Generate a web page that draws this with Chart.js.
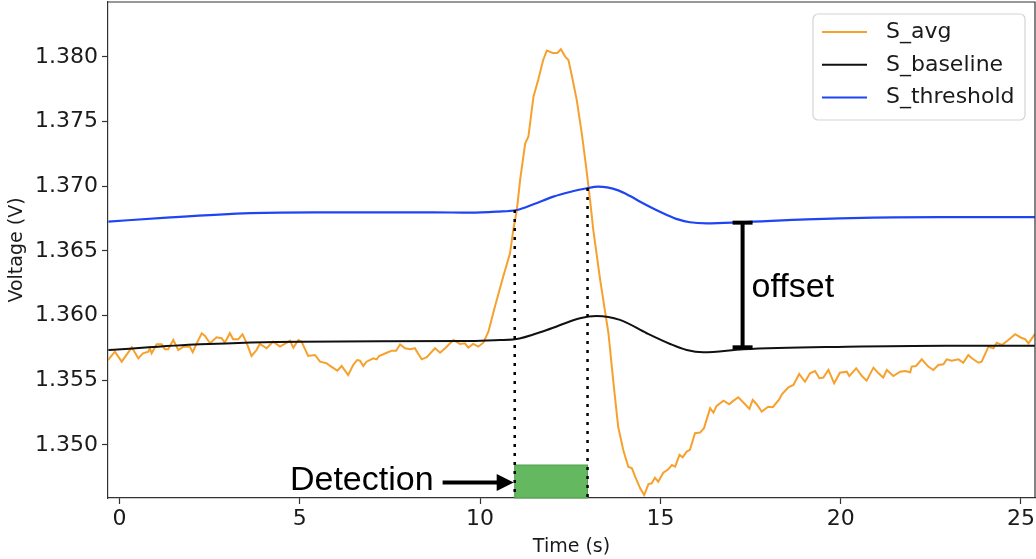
<!DOCTYPE html>
<html>
<head>
<meta charset="utf-8">
<script src="https://cdn.jsdelivr.net/npm/chart.js@4.4.0/dist/chart.umd.min.js"></script>
<style>
  html, body { margin: 0; padding: 0; background: #fff; }
</style>
</head>
<body>
<canvas id="myChart" width="1036" height="559"></canvas>
<script>
// S_avg trace
const avgTime = [
  -0.32,-0.13,0.06,0.34,0.52,0.65,0.80,0.84,0.89,1.03,
  1.17,1.26,1.35,1.49,1.63,1.77,1.95,2.03,2.14,2.28,
  2.37,2.51,2.69,2.83,2.92,3.06,3.15,3.29,3.41,3.53,
  3.66,3.80,3.89,4.08,4.26,4.45,4.64,4.73,4.82,4.96,
  5.05,5.23,5.42,5.56,5.74,5.84,6.04,6.16,6.34,6.48,
  6.59,6.67,6.76,6.85,7.04,7.13,7.20,7.41,7.55,7.67,
  7.78,7.92,8.06,8.19,8.38,8.52,8.75,8.89,9.03,9.26,
  9.44,9.58,9.67,9.81,9.95,10.09,10.23,10.41,10.64,10.83,
  10.92,11.02,11.11,11.25,11.34,11.48,11.61,11.75,11.85,12.03,
  12.15,12.24,12.36,12.45,12.54,12.68,12.82,12.94,13.05,13.14,
  13.33,13.56,13.70,13.83,13.97,14.11,14.21,14.30,14.44,14.55,
  14.67,14.76,14.85,14.94,15.08,15.22,15.32,15.41,15.53,15.62,
  15.73,15.82,15.96,16.10,16.21,16.38,16.47,16.56,16.75,16.91,
  17.02,17.16,17.35,17.47,17.56,17.67,17.81,17.99,18.12,18.30,
  18.37,18.55,18.69,18.85,19.01,19.15,19.29,19.41,19.52,19.66,
  19.82,19.98,20.17,20.24,20.43,20.59,20.72,20.91,21.05,21.18,
  21.28,21.46,21.65,21.79,21.93,21.97,22.09,22.25,22.43,22.57,
  22.71,22.85,22.94,23.08,23.27,23.40,23.54,23.64,23.82,23.91,
  24.10,24.24,24.33,24.47,24.65,24.84,24.98,25.12,25.21,25.39
];
const avgVolt = [
  1.35657,1.35721,1.35644,1.35755,1.35670,1.35709,1.35721,1.35748,1.35709,1.35778,
  1.35778,1.35740,1.35740,1.35812,1.35734,1.35760,1.35760,1.35717,1.35786,1.35864,
  1.35843,1.35786,1.35833,1.35825,1.35791,1.35864,1.35817,1.35817,1.35856,1.35786,
  1.35688,1.35734,1.35781,1.35748,1.35799,1.35760,1.35791,1.35807,1.35753,1.35812,
  1.35799,1.35688,1.35696,1.35644,1.35632,1.35611,1.35575,1.35611,1.35541,1.35618,
  1.35657,1.35652,1.35611,1.35644,1.35670,1.35662,1.35688,1.35713,1.35729,1.35729,
  1.35778,1.35748,1.35740,1.35748,1.35662,1.35678,1.35748,1.35713,1.35748,1.35812,
  1.35781,1.35786,1.35753,1.35781,1.35760,1.35791,1.35876,1.36069,1.36301,1.36482,
  1.36662,1.36817,1.37049,1.37331,1.37385,1.37693,1.37822,1.37977,1.38049,1.38029,
  1.38033,1.38060,1.38003,1.37977,1.37861,1.37668,1.37410,1.37152,1.36894,1.36662,
  1.36276,1.35863,1.35477,1.35141,1.34961,1.34832,1.34820,1.34755,1.34665,1.34613,
  1.34698,1.34704,1.34747,1.34716,1.34786,1.34812,1.34845,1.34832,1.34923,1.34905,
  1.34949,1.34962,1.35091,1.35096,1.35130,1.35284,1.35250,1.35302,1.35343,1.35315,
  1.35341,1.35369,1.35315,1.35279,1.35348,1.35315,1.35258,1.35296,1.35292,1.35354,
  1.35392,1.35446,1.35464,1.35549,1.35489,1.35554,1.35572,1.35516,1.35521,1.35580,
  1.35477,1.35559,1.35567,1.35533,1.35593,1.35533,1.35497,1.35598,1.35554,1.35521,
  1.35580,1.35533,1.35567,1.35572,1.35562,1.35606,1.35611,1.35662,1.35606,1.35580,
  1.35618,1.35624,1.35662,1.35652,1.35662,1.35636,1.35696,1.35670,1.35636,1.35644,
  1.35760,1.35748,1.35791,1.35773,1.35812,1.35856,1.35833,1.35817,1.35786,1.35859
];

// S_baseline
const baseTime = [-0.31,2.23,5.00,9.63,10.55,10.97,11.85,12.77,13.23,13.88,14.62,15.27,15.73,16.19,17.30,20.17,22.94,25.42];
const baseVolt = [1.35734,1.35778,1.35799,1.35804,1.35812,1.35817,1.35889,1.35980,1.35997,1.35967,1.35864,1.35781,1.35734,1.35716,1.35740,1.35760,1.35768,1.35768];

// S_threshold
const threshTime = [-0.31,1.31,3.62,5.47,8.70,9.72,10.46,11.02,11.48,12.03,12.49,12.96,13.28,13.79,14.16,14.44,14.80,15.18,15.49,15.82,16.29,17.21,19.06,20.91,22.76,25.42];
const threshVolt = [1.36727,1.36758,1.36792,1.36799,1.36799,1.36796,1.36804,1.36817,1.36861,1.36920,1.36956,1.36985,1.36997,1.36972,1.36925,1.36881,1.36829,1.36779,1.36744,1.36722,1.36714,1.36722,1.36745,1.36758,1.36761,1.36761];

const xTicks = [0, 5, 10, 15, 20, 25];
const yTicks = [1.350, 1.355, 1.360, 1.365, 1.370, 1.375, 1.380];
const xMin = -0.32, xMax = 25.39;
const yMin = 1.3459, yMax = 1.38425;

// detection window and offset marker
const detectStart = 10.96, detectEnd = 12.98;
const detectStartV = 1.36817, detectEndV = 1.36987;
const detectBoxTop = 1.34845;
const offsetX = 17.28, offsetLow = 1.35755, offsetHigh = 1.36719;

const ORANGE = "#f6a12d";
const BLUE = "#1f45f2";
const BLACK = "#111111";

const pts = (xs, ys) => xs.map((x, i) => ({ x: x, y: ys[i] }));

const annotations = {
  id: "annotations",
  beforeDatasetsDraw(chart) {
    const { ctx, scales: { x, y } } = chart;
    const l = x.getPixelForValue(detectStart), r = x.getPixelForValue(detectEnd);
    const t = y.getPixelForValue(detectBoxTop), b = y.getPixelForValue(yMin);
    ctx.save();
    ctx.fillStyle = "rgb(100,185,96)";
    ctx.strokeStyle = "rgb(78,158,74)";
    ctx.lineWidth = 1;
    ctx.fillRect(l, t, r - l, b - t);
    ctx.strokeRect(l, t, r - l, b - t);
    ctx.restore();
  },
  afterDatasetsDraw(chart) {
    const { ctx, scales: { x, y } } = chart;
    ctx.save();
    // arrow into the detection box
    const tipX = x.getPixelForValue(detectStart) - 1;
    const ay = y.getPixelForValue(1.34709);
    const startX = x.getPixelForValue(8.96);
    ctx.strokeStyle = "#000";
    ctx.fillStyle = "#000";
    ctx.lineWidth = 4;
    ctx.beginPath();
    ctx.moveTo(startX, ay);
    ctx.lineTo(tipX - 12, ay);
    ctx.stroke();
    ctx.beginPath();
    ctx.moveTo(tipX, ay);
    ctx.lineTo(tipX - 17, ay - 8.5);
    ctx.lineTo(tipX - 17, ay + 8.5);
    ctx.closePath();
    ctx.fill();

    ctx.font = "34px 'Liberation Sans', Arial, sans-serif";
    ctx.textBaseline = "alphabetic";
    ctx.textAlign = "right";
    ctx.fillText("Detection", startX - 9, y.getPixelForValue(1.34652));
    ctx.textAlign = "left";
    ctx.fillText("offset", x.getPixelForValue(17.53), y.getPixelForValue(1.36142));
    ctx.restore();
  },
  afterDraw(chart) {
    const { ctx, chartArea: a } = chart;
    ctx.save();
    // remaining spines
    ctx.strokeStyle = "#333";
    ctx.lineWidth = 1.2;
    ctx.beginPath();
    ctx.moveTo(a.left, a.top);
    ctx.lineTo(a.right, a.top);
    ctx.lineTo(a.right, a.bottom);
    ctx.stroke();

    // legend box in the upper right
    const bw = 212, bh = 106;
    const bx = a.right - 10 - bw, by = a.top + 12;
    ctx.beginPath();
    ctx.roundRect(bx, by, bw, bh, 5);
    ctx.fillStyle = "rgba(255,255,255,0.85)";
    ctx.fill();
    ctx.strokeStyle = "#d4d4d4";
    ctx.lineWidth = 1.2;
    ctx.stroke();
    ctx.font = "22px 'DejaVu Sans', sans-serif";
    ctx.textBaseline = "middle";
    ctx.textAlign = "left";
    chart.data.datasets.slice(0, 3).forEach((ds, i) => {
      const ry = by + 18 + i * 32.8;
      ctx.strokeStyle = ds.borderColor;
      ctx.lineWidth = 2;
      ctx.beginPath();
      ctx.moveTo(bx + 9, ry);
      ctx.lineTo(bx + 54, ry);
      ctx.stroke();
      ctx.fillStyle = "#1a1a1a";
      ctx.fillText(ds.label, bx + 73, ry);
    });
    ctx.restore();
  }
};

const tickFont = { family: "'DejaVu Sans', sans-serif", size: 22 };
const titleFont = { family: "'DejaVu Sans', sans-serif", size: 19 };

new Chart(document.getElementById("myChart"), {
  type: "line",
  data: {
    datasets: [
      { label: "S_avg", data: pts(avgTime, avgVolt), borderColor: ORANGE, borderWidth: 2, pointRadius: 0, tension: 0, order: 3 },
      { label: "S_baseline", data: pts(baseTime, baseVolt), borderColor: BLACK, borderWidth: 2, pointRadius: 0, cubicInterpolationMode: "monotone", order: 2 },
      { label: "S_threshold", data: pts(threshTime, threshVolt), borderColor: BLUE, borderWidth: 2.2, pointRadius: 0, cubicInterpolationMode: "monotone", order: 1 },
      { label: "start", data: [{ x: detectStart, y: detectStartV }, { x: detectStart, y: yMin }], borderColor: "#000", borderWidth: 2.5, borderDash: [3, 6], pointRadius: 0, order: 0 },
      { label: "end", data: [{ x: detectEnd, y: detectEndV }, { x: detectEnd, y: yMin }], borderColor: "#000", borderWidth: 2.5, borderDash: [3, 6], pointRadius: 0, order: 0 },
      { label: "offset", data: [{ x: offsetX, y: offsetLow }, { x: offsetX, y: offsetHigh }], borderColor: "#000", borderWidth: 4,
        pointStyle: "line", pointRadius: 10, pointBorderWidth: 4, pointBorderColor: "#000", order: 0 }
    ]
  },
  options: {
    responsive: false,
    animation: false,
    devicePixelRatio: 1,
    layout: { autoPadding: false, padding: { top: 2, right: 1, left: 0, bottom: 0 } },
    plugins: { legend: { display: false }, tooltip: { enabled: false } },
    scales: {
      x: {
        type: "linear",
        min: xMin,
        max: xMax,
        afterFit: s => { s.height = 61; s.paddingLeft = 0; s.paddingRight = 0; },
        afterBuildTicks: s => { s.ticks = xTicks.map(v => ({ value: v })); },
        ticks: { font: tickFont, color: "#1a1a1a", padding: 2, maxRotation: 0, callback: v => String(v) },
        grid: { drawOnChartArea: false, tickLength: 6, color: "#333", tickWidth: 1.2 },
        border: { color: "#333", width: 1.2 },
        title: { display: true, text: "Time (s)", font: titleFont, color: "#1a1a1a", padding: { top: 0, bottom: 1 } }
      },
      y: {
        type: "linear",
        min: yMin,
        max: yMax,
        afterFit: s => { s.width = 108; s.paddingTop = 0; s.paddingBottom = 0; },
        afterBuildTicks: s => { s.ticks = yTicks.map(v => ({ value: v })); },
        ticks: { font: tickFont, color: "#1a1a1a", padding: 4, callback: v => v.toFixed(3) },
        grid: { drawOnChartArea: false, tickLength: 6, color: "#333", tickWidth: 1.2 },
        border: { color: "#333", width: 1.2 },
        title: { display: true, text: "Voltage (V)", font: titleFont, color: "#1a1a1a", padding: { top: 6, bottom: 0 } }
      }
    }
  },
  plugins: [annotations]
});
</script>
</body>
</html>
